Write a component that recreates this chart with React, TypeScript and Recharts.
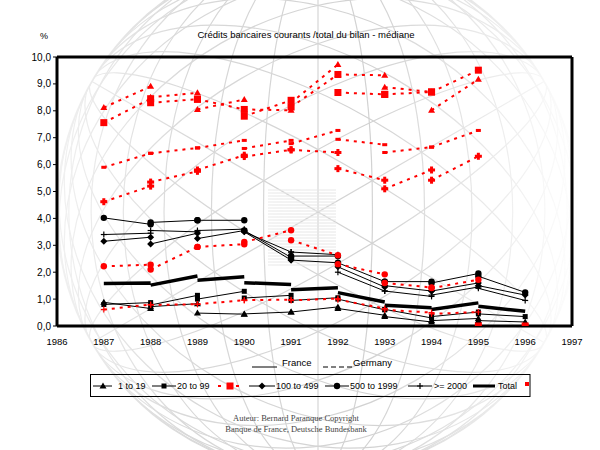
import React from "react";
import { LineChart, Line, XAxis, YAxis, ReferenceLine } from "recharts";

// Segment start years (each segment runs from year to year + 1)
const segmentYears = [1987, 1988, 1989, 1990, 1991, 1992, 1993, 1994, 1995];
const xTicks = [1986, 1987, 1988, 1989, 1990, 1991, 1992, 1993, 1994, 1995, 1996, 1997];
const yTicks = [0, 1, 2, 3, 4, 5, 6, 7, 8, 9, 10];

// France (solid black)
const fr1to19Start = [0.88, 0.72, 0.48, 0.45, 0.52, 0.65, 0.35, 0.2, 0.2];
const fr1to19End = [0.65, 0.83, 0.44, 0.52, 0.71, 0.4, 0.15, 0.28, 0.15];
const fr20to99Start = [0.8, 0.78, 1.0, 1.04, 0.95, 1.0, 0.62, 0.35, 0.45];
const fr20to99End = [0.87, 1.14, 1.29, 1.14, 1.05, 0.6, 0.3, 0.52, 0.35];
const fr100to499Start = [3.15, 3.05, 3.25, 3.5, 2.45, 2.2, 1.5, 1.3, 1.5];
const fr100to499End = [3.3, 3.45, 3.55, 2.45, 2.35, 1.45, 1.3, 1.6, 1.15];
const fr500to1999Start = [4.02, 3.85, 3.93, 3.55, 2.6, 2.35, 1.65, 1.6, 1.85];
const fr500to1999End = [3.78, 3.93, 3.93, 2.55, 2.6, 1.65, 1.65, 1.95, 1.25];
const frOver2000Start = [3.4, 3.55, 3.55, 3.5, 2.75, 2.0, 1.3, 1.15, 1.4];
const frOver2000End = [3.45, 3.5, 3.6, 2.75, 2.65, 1.3, 1.1, 1.45, 0.95];
const frTotalStart = [1.58, 1.52, 1.7, 1.61, 1.35, 1.24, 0.77, 0.61, 0.73];
const frTotalEnd = [1.6, 1.86, 1.83, 1.54, 1.42, 0.89, 0.68, 0.86, 0.55];

// Germany (dashed red)
const de1to19Start = [8.12, 8.5, 8.05, 8.05, 8.3, 9.35, 8.88, 8.02, null];
const de1to19End = [8.91, 8.67, 8.42, 8.02, 9.72, 9.32, 8.7, 9.17, null];
const de20to99Start = [7.56, 8.3, 8.43, 7.8, 8.14, 8.68, 8.61, 8.7, 0];
const de20to99End = [8.45, 8.43, 8.05, 8.39, 9.35, 8.61, 8.7, 9.51, 0];
const de100to499Start = [4.62, 5.35, 5.8, 6.3, 6.55, 5.85, 5.1, 5.42, null];
const de100to499End = [5.2, 5.75, 6.35, 6.55, 6.45, 5.42, 5.8, 6.31, null];
const de500to1999Start = [2.22, 2.1, 2.94, 3.12, 3.19, 2.3, 1.6, 1.41, null];
const de500to1999End = [2.28, 2.94, 3.04, 3.56, 2.63, 1.92, 1.43, 1.72, null];
const deOver2000Start = [5.9, 6.42, 6.62, 6.6, 6.78, 6.94, 6.45, 6.65, null];
const deOver2000End = [6.42, 6.62, 6.9, 6.9, 7.27, 6.74, 6.65, 7.27, null];
const deTotalStart = [0.61, 0.78, 0.81, 0.96, 0.95, 0.98, 0.6, 0.45, null];
const deTotalEnd = [0.8, 0.81, 0.96, 0.98, 1.02, 0.65, 0.5, 0.52, null];

type Pt = { year: number; v: number | null };

function segs(starts: (number | null)[], ends: (number | null)[]): Pt[] {
  const out: Pt[] = [];
  segmentYears.forEach((yr, i) => {
    const s = starts[i];
    const e = ends[i];
    if (s == null || e == null) return;
    out.push({ year: yr, v: s });
    out.push({ year: yr + 1, v: e });
    out.push({ year: yr + 1, v: null });
  });
  return out;
}

type Shape = "triangle" | "square" | "bigsquare" | "diamond" | "circle" | "plus" | "bigplus" | "dash" | "none";

function marker(shape: Shape, color: string, cx: number, cy: number, k: string) {
  switch (shape) {
    case "triangle":
      return <path key={k} d={`M${cx},${cy - 3.5}L${cx + 3.5},${cy + 2.5}L${cx - 3.5},${cy + 2.5}Z`} fill={color} />;
    case "square":
      return <rect key={k} x={cx - 2.5} y={cy - 2.5} width={5} height={5} fill={color} />;
    case "bigsquare":
      return <rect key={k} x={cx - 3.5} y={cy - 3.5} width={7} height={7} fill={color} />;
    case "diamond":
      return <path key={k} d={`M${cx},${cy - 3.5}L${cx + 3.5},${cy}L${cx},${cy + 3.5}L${cx - 3.5},${cy}Z`} fill={color} />;
    case "circle":
      return <circle key={k} cx={cx} cy={cy} r={3.2} fill={color} />;
    case "plus":
      return (
        <g key={k} stroke={color} strokeWidth={1.2}>
          <line x1={cx - 3} y1={cy} x2={cx + 3} y2={cy} />
          <line x1={cx} y1={cy - 3} x2={cx} y2={cy + 3} />
        </g>
      );
    case "bigplus":
      return (
        <g key={k} fill={color}>
          <rect x={cx - 3.5} y={cy - 1.5} width={7} height={3} />
          <rect x={cx - 1.5} y={cy - 3.5} width={3} height={7} />
        </g>
      );
    case "dash":
      return <rect key={k} x={cx - 2.5} y={cy - 1.5} width={5} height={3} fill={color} />;
    default:
      return <g key={k} />;
  }
}

function makeDot(shape: Shape, color: string) {
  return (p: any) => {
    const k = `d${p.index}`;
    const val = p.payload ? p.payload.v : p.value;
    if (val == null || p.cx == null || p.cy == null || isNaN(p.cx) || isNaN(p.cy)) return <g key={k} />;
    return marker(shape, color, p.cx, p.cy, k);
  };
}

const RED = "#ff0000";
const DASH = "3 5";

const series = [
  { id: "fr1", data: segs(fr1to19Start, fr1to19End), color: "#000", width: 1, dash: undefined, shape: "triangle" as Shape },
  { id: "fr2", data: segs(fr20to99Start, fr20to99End), color: "#000", width: 1, dash: undefined, shape: "square" as Shape },
  { id: "fr3", data: segs(fr100to499Start, fr100to499End), color: "#000", width: 1, dash: undefined, shape: "diamond" as Shape },
  { id: "fr4", data: segs(fr500to1999Start, fr500to1999End), color: "#000", width: 1, dash: undefined, shape: "circle" as Shape },
  { id: "fr5", data: segs(frOver2000Start, frOver2000End), color: "#000", width: 1, dash: undefined, shape: "plus" as Shape },
  { id: "fr6", data: segs(frTotalStart, frTotalEnd), color: "#000", width: 3.5, dash: undefined, shape: "none" as Shape },
  { id: "de1", data: segs(de1to19Start, de1to19End), color: RED, width: 2, dash: DASH, shape: "triangle" as Shape },
  { id: "de2", data: segs(de20to99Start, de20to99End), color: RED, width: 2, dash: DASH, shape: "bigsquare" as Shape },
  { id: "de3", data: segs(de100to499Start, de100to499End), color: RED, width: 2, dash: DASH, shape: "bigplus" as Shape },
  { id: "de4", data: segs(de500to1999Start, de500to1999End), color: RED, width: 2, dash: DASH, shape: "circle" as Shape },
  { id: "de5", data: segs(deOver2000Start, deOver2000End), color: RED, width: 2, dash: DASH, shape: "dash" as Shape },
  { id: "de6", data: segs(deTotalStart, deTotalEnd), color: RED, width: 2, dash: DASH, shape: "plus" as Shape },
];

function Globe() {
  const cx = 318;
  const cy = 212;
  const R = 262;
  const thetas = [12, 24, 36, 48, 60, 72, 84];
  const tilts = [0, 60, -60];
  return (
    <svg width={600} height={450} style={{ position: "absolute", left: 0, top: 0 }}>
      <defs>
        <clipPath id="gclip">
          <circle cx={cx} cy={cy} r={R} />
        </clipPath>
        <linearGradient id="gfade" x1="0" y1="0" x2="1" y2="0">
          <stop offset="0" stopColor="#fff" stopOpacity="0.3" />
          <stop offset="0.25" stopColor="#fff" stopOpacity="0.85" />
          <stop offset="0.6" stopColor="#fff" stopOpacity="1" />
          <stop offset="0.85" stopColor="#fff" stopOpacity="0.4" />
          <stop offset="1" stopColor="#fff" stopOpacity="0" />
        </linearGradient>
        <mask id="gmask">
          <rect x={cx - R} y={cy - R} width={2 * R} height={2 * R} fill="url(#gfade)" />
        </mask>
      </defs>
      <g clipPath="url(#gclip)" mask="url(#gmask)" fill="none" stroke="#d2d2d2" strokeWidth={1.2}>
        {tilts.map((t) => (
          <g key={t} transform={`rotate(${t} ${cx} ${cy})`}>
            <line x1={cx} y1={cy - R} x2={cx} y2={cy + R} />
            {thetas.map((th) => (
              <ellipse key={th} cx={cx} cy={cy} rx={R * Math.sin((th * Math.PI) / 180)} ry={R} />
            ))}
            <circle cx={cx} cy={cy} r={R} />
          </g>
        ))}
        <g stroke="#e6e6e6" strokeWidth={1}>
          {Array.from({ length: 26 }, (_, i) => (
            <line key={i} x1={268} y1={190 + i * 3} x2={336} y2={190 + i * 3} />
          ))}
        </g>
      </g>
    </svg>
  );
}

const sans = "'Liberation Sans', Arial, sans-serif";
const serif = "'Liberation Serif', 'Times New Roman', serif";

function Overlay() {
  const ly = 386;
  return (
    <svg width={600} height={450} style={{ position: "absolute", left: 0, top: 0, pointerEvents: "none" }}>
      <text x={40} y={39} fontSize={9} fontFamily={sans} fill="#000">%</text>
      <text x={306} y={38} fontSize={9.5} fontFamily={sans} fill="#000" textAnchor="middle">
        Crédits bancaires courants /total du bilan - médiane
      </text>
      {/* France / Germany key */}
      <line x1={252} y1={367} x2={277} y2={367} stroke="#000" strokeWidth={1} />
      <text x={282} y={366} fontSize={9.5} fontFamily={sans} fill="#000">France</text>
      <line x1={323} y1={367} x2={352} y2={367} stroke="#000" strokeWidth={1} strokeDasharray="5 3" />
      <text x={353} y={366} fontSize={9.5} fontFamily={sans} fill="#000">Germany</text>
      {/* Legend box */}
      <defs>
        <clipPath id="lclip">
          <rect x={90.5} y={374.5} width={439.5} height={22} />
        </clipPath>
      </defs>
      <rect x={90.5} y={374.5} width={439.5} height={22} fill="none" stroke="#000" strokeWidth={1} />
      <g clipPath="url(#lclip)" fontSize={9} fontFamily={sans} fill="#000">
        <line x1={93} y1={ly} x2={112} y2={ly} stroke="#000" />
        {marker("triangle", "#000", 103, ly, "l1")}
        <text x={118} y={ly + 3.3}>1 to 19</text>
        <line x1={152} y1={ly} x2={176} y2={ly} stroke="#000" />
        {marker("square", "#000", 164, ly, "l2")}
        <text x={177} y={ly + 3.3}>20 to 99</text>
        <line x1={218} y1={ly} x2={240} y2={ly} stroke={RED} strokeWidth={2} strokeDasharray="3 6" />
        {marker("bigsquare", RED, 230, ly, "l3")}
        <line x1={249} y1={ly} x2={275} y2={ly} stroke="#000" />
        {marker("diamond", "#000", 262, ly, "l4")}
        <text x={276} y={ly + 3.3}>100 to 499</text>
        <line x1={325} y1={ly} x2={349} y2={ly} stroke="#000" />
        {marker("circle", "#000", 337, ly, "l5")}
        <text x={350} y={ly + 3.3}>500 to 1999</text>
        <line x1={408} y1={ly} x2={432} y2={ly} stroke="#000" />
        {marker("plus", "#000", 420, ly, "l6")}
        <text x={434} y={ly + 3.3}>&gt;= 2000</text>
        <line x1={473} y1={ly} x2={495} y2={ly} stroke="#000" strokeWidth={3} />
        <text x={498} y={ly + 3.3}>Total</text>
        <rect x={525} y={382} width={4} height={4} fill={RED} />
      </g>
      {/* Footer */}
      <text x={296} y={421} fontSize={8.5} fontFamily={serif} fill="#444" textAnchor="middle">
        Auteur: Bernard Paranque Copyright
      </text>
      <text x={296} y={432} fontSize={8.5} fontFamily={serif} fill="#444" textAnchor="middle">
        Banque de France,  Deutsche Bundesbank
      </text>
    </svg>
  );
}

export default function App() {
  return (
    <div style={{ position: "absolute", left: 0, top: 0, width: 600, height: 450, background: "#fff" }}>
      <Globe />
      <div style={{ position: "absolute", left: 0, top: 0 }}>
        <LineChart width={600} height={450} margin={{ top: 57, right: 28, bottom: 94, left: 27 }}>
          <XAxis
            type="number"
            dataKey="year"
            domain={[1986, 1997]}
            ticks={xTicks}
            interval={0}
            allowDataOverflow
            axisLine={{ stroke: "#000", strokeWidth: 3 }}
            tickLine={false}
            tickMargin={6}
            height={30}
            tick={{ fontSize: 9.5, fill: "#000", fontFamily: sans }}
          />
          <YAxis
            type="number"
            domain={[0, 10]}
            ticks={yTicks}
            interval={0}
            allowDataOverflow
            width={30}
            tickFormatter={(v: number) => v.toFixed(1).replace(".", ",")}
            axisLine={{ stroke: "#000", strokeWidth: 3 }}
            tickLine={{ stroke: "#000" }}
            tickSize={4}
            tickMargin={2}
            tick={{ fontSize: 10, fill: "#000", fontFamily: sans }}
          />
          <ReferenceLine y={10} stroke="#000" strokeWidth={3} />
          <ReferenceLine x={1997} stroke="#000" strokeWidth={3} />
          {series.map((s) => (
            <Line
              key={s.id}
              data={s.data}
              dataKey="v"
              type="linear"
              stroke={s.color}
              strokeWidth={s.width}
              strokeDasharray={s.dash}
              connectNulls={false}
              dot={makeDot(s.shape, s.color)}
              activeDot={false}
              legendType="none"
              isAnimationActive={false}
            />
          ))}
        </LineChart>
      </div>
      <Overlay />
    </div>
  );
}
